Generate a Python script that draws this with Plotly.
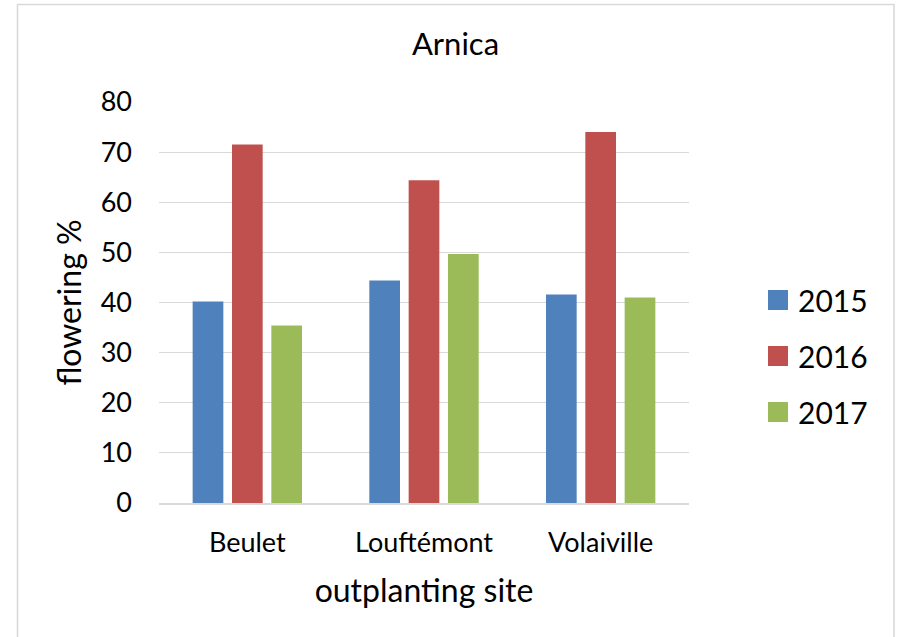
import plotly.graph_objects as go

# Flowering percentage of Arnica per outplanting site and year
sites = ["Beulet", "Louftémont", "Volaiville"]
years = ["2015", "2016", "2017"]
flowering_2015 = [40.2, 44.4, 41.6]
flowering_2016 = [71.5, 64.4, 74.0]
flowering_2017 = [35.4, 49.7, 41.0]
y_ticks = [0, 10, 20, 30, 40, 50, 60, 70, 80]

series = [flowering_2015, flowering_2016, flowering_2017]
colors = ["#4f81bd", "#c0504d", "#9bbb59"]

W, H = 899, 637
L, R, T, B = 159, 210, 102, 134
pw, ph = W - L - R, H - T - B

FONT = "Lato, 'Open Sans', sans-serif"

fig = go.Figure()
for year, vals, col in zip(years, series, colors):
    fig.add_trace(go.Bar(
        x=sites, y=vals, name=year, legendgroup=year, showlegend=False,
        marker=dict(color=col, line=dict(width=0)),
    ))

# legend entries with larger square swatches
for year, col in zip(years, colors):
    fig.add_trace(go.Scatter(
        x=[None], y=[None], mode="markers", name=year, legendgroup=year,
        marker=dict(symbol="square", size=16, color=col, line=dict(color=col, width=4)),
        hoverinfo="skip",
    ))

# outer chart frame (light gray, open at the bottom)
def px_x(v):
    return (v - L) / pw

def px_y(v):
    return 1 - (v - T) / ph

fig.add_shape(type="path", xref="paper", yref="paper",
              path=f"M {px_x(17.5)} {px_y(640)} L {px_x(17.5)} {px_y(4.5)} "
                   f"L {px_x(894)} {px_y(4.5)} L {px_x(894)} {px_y(640)}",
              line=dict(color="#d9d9d9", width=1.6), layer="below")

fig.update_layout(
    width=W, height=H,
    margin=dict(l=L, r=R, t=T, b=B, autoexpand=False),
    paper_bgcolor="white", plot_bgcolor="white",
    font=dict(family=FONT, color="#000000"),
    barmode="group", bargap=0.332, bargroupgap=0.22,
    title=dict(text="Arnica", font=dict(size=31, family=FONT, color="#000000"),
               xref="container", x=455.5 / W, xanchor="center",
               yref="container", y=1 - 44 / H, yanchor="middle"),
    xaxis=dict(
        showgrid=False, showline=True, linecolor="#d9d9d9", linewidth=1.5,
        ticks="", tickfont=dict(size=27, family=FONT, color="#000000"),
        ticklabelstandoff=15,
        title=dict(text="outplanting site", font=dict(size=32, family=FONT, color="#000000"),
                   standoff=22),
    ),
    yaxis=dict(
        range=[0, 80], tickvals=y_ticks, showgrid=True, gridcolor="#d9d9d9", gridwidth=1.3,
        zeroline=False, showline=False, ticks="",
        tickfont=dict(size=27, family=FONT, color="#000000"),
        ticklabelstandoff=26,
        title=dict(text="flowering %", font=dict(size=32, family=FONT, color="#000000"),
                   standoff=9),
    ),
    legend=dict(
        x=(758 - L) / pw, xanchor="left", y=px_y(356), yanchor="middle",
        font=dict(size=30, family=FONT, color="#000000"),
        tracegroupgap=14, bgcolor="rgba(0,0,0,0)", itemwidth=30,
    ),
    showlegend=True,
)

fig.write_html("out.html")
